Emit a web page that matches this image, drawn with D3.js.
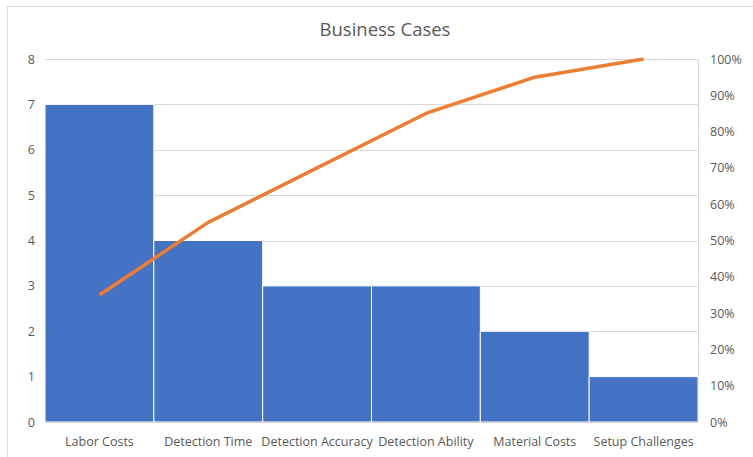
<!DOCTYPE html>
<html>
<head>
<meta charset="utf-8">
<script src="https://cdn.jsdelivr.net/npm/d3@7"></script>
<style>
  body { margin: 0; background: #fff; }
  svg { font-family: "Open Sans", "Noto Sans", sans-serif; }
</style>
</head>
<body>
<div id="chart"></div>
<script>
// chart data
var categories = ["Labor Costs", "Detection Time", "Detection Accuracy", "Detection Ability", "Material Costs", "Setup Challenges"];
var counts = [7, 4, 3, 3, 2, 1];
var cumulativePct = [0.35, 0.55, 0.70, 0.85, 0.95, 1.00];
var leftTicks = [0, 1, 2, 3, 4, 5, 6, 7, 8];
var rightTicks = [0, 0.1, 0.2, 0.3, 0.4, 0.5, 0.6, 0.7, 0.8, 0.9, 1.0];

var width = 753, height = 457;
var margin = {top: 59, right: 55, bottom: 35, left: 45};

var svg = d3.select("#chart").append("svg")
  .attr("width", width).attr("height", height);

// outer chart border
svg.append("rect")
  .attr("x", 7.5).attr("y", 6.5)
  .attr("width", width).attr("height", height)
  .attr("fill", "none").attr("stroke", "#d9d9d9");

var x = d3.scaleBand().domain(categories)
  .range([margin.left, width - margin.right]).padding(0);
var y = d3.scaleLinear().domain([0, 8])
  .range([height - margin.bottom, margin.top]);
var y2 = d3.scaleLinear().domain([0, 1])
  .range([height - margin.bottom, margin.top]);

// grid lines
svg.append("g").selectAll("line").data(leftTicks.slice(1)).enter().append("line")
  .attr("x1", margin.left).attr("x2", width - margin.right)
  .attr("y1", function (d) { return Math.round(y(d)) + 0.5; })
  .attr("y2", function (d) { return Math.round(y(d)) + 0.5; })
  .attr("stroke", "#d9d9d9");

// right edge of plot area
svg.append("line")
  .attr("x1", width - margin.right + 0.5).attr("x2", width - margin.right + 0.5)
  .attr("y1", margin.top).attr("y2", height - margin.bottom)
  .attr("stroke", "#d9d9d9");

// bars
svg.append("g").selectAll("rect").data(counts).enter().append("rect")
  .attr("x", function (d, i) { return x(categories[i]); })
  .attr("y", function (d) { return y(d); })
  .attr("width", x.bandwidth())
  .attr("height", function (d) { return y(0) - y(d); })
  .attr("fill", "#4472c4")
  .attr("stroke", "#ffffff").attr("stroke-width", 1);

// baseline
svg.append("line")
  .attr("x1", margin.left).attr("x2", width - margin.right)
  .attr("y1", y(0) + 0.5).attr("y2", y(0) + 0.5)
  .attr("stroke", "#d9d9d9");

// cumulative line
var line = d3.line()
  .x(function (d, i) { return x(categories[i]) + x.bandwidth() / 2; })
  .y(function (d) { return y2(d); });
svg.append("path").datum(cumulativePct)
  .attr("d", line)
  .attr("fill", "none")
  .attr("stroke", "#ed7d31")
  .attr("stroke-width", 3.5)
  .attr("stroke-linejoin", "round");

// left axis
var leftAxis = svg.append("g")
  .attr("transform", "translate(" + margin.left + ",0)")
  .call(d3.axisLeft(y).tickValues(leftTicks).tickSize(0).tickPadding(10));
// right axis
var rightAxis = svg.append("g")
  .attr("transform", "translate(" + (width - margin.right) + ",0)")
  .call(d3.axisRight(y2).tickValues(rightTicks).tickFormat(d3.format(".0%")).tickSize(0).tickPadding(12));
// bottom axis
var bottomAxis = svg.append("g")
  .attr("transform", "translate(0," + (height - margin.bottom) + ")")
  .call(d3.axisBottom(x).tickSize(0).tickPadding(15));

[leftAxis, rightAxis, bottomAxis].forEach(function (g) {
  g.select(".domain").remove();
  g.selectAll("text").attr("fill", "#595959").style("font-size", "12.5px")
    .style("font-family", "'Open Sans', 'Noto Sans', sans-serif");
});

// title
svg.append("text")
  .attr("x", 385).attr("y", 36)
  .attr("text-anchor", "middle")
  .attr("fill", "#595959")
  .style("font-size", "18.5px")
  .text("Business Cases");
</script>
</body>
</html>
